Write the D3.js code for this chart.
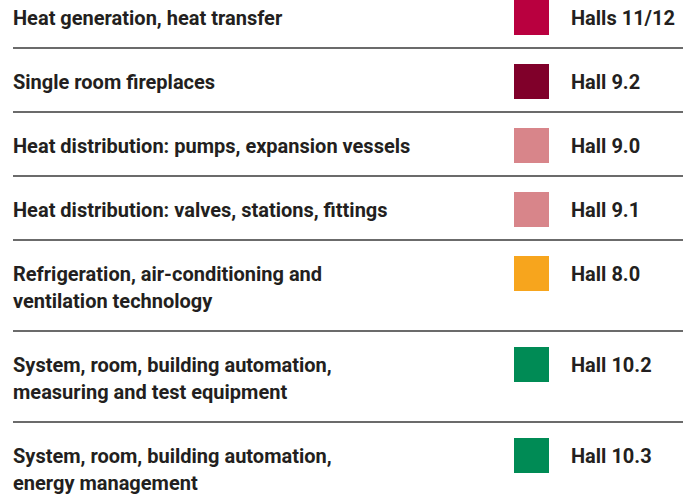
<!DOCTYPE html>
<html>
<head>
<meta charset="utf-8">
<script src="https://cdn.jsdelivr.net/npm/d3@7"></script>
<style>
  html, body { margin: 0; padding: 0; background: #fff; }
  svg text { font-family: "Liberation Sans Narrow", "Roboto", sans-serif; font-weight: bold; fill: #231f20; }
</style>
</head>
<body>
<svg id="chart" width="683" height="497"></svg>
<script>
(function() {
  // row labels, one entry per text line
  var labels = [
    ["Heat generation, heat transfer"],
    ["Single room fireplaces"],
    ["Heat distribution: pumps, expansion vessels"],
    ["Heat distribution: valves, stations, fittings"],
    ["Refrigeration, air-conditioning and", "ventilation technology"],
    ["System, room, building automation,", "measuring and test equipment"],
    ["System, room, building automation,", "energy management"]
  ];
  var halls = ["Halls 11/12", "Hall 9.2", "Hall 9.0", "Hall 9.1", "Hall 8.0", "Hall 10.2", "Hall 10.3"];
  var colors = ["#b9003f", "#80002a", "#d8858a", "#d8858a", "#f7a51d", "#008b55", "#008b55"];

  var W = 683;
  var ROW = 64, LINE = 27, TOP = -16;

  // cumulative row offsets
  var rows = [];
  var y = TOP;
  labels.forEach(function(l, i) {
    var h = ROW + (l.length - 1) * LINE;
    rows.push({ label: l, hall: halls[i], color: colors[i], y: y, h: h, last: i === labels.length - 1 });
    y += h;
  });

  var svg = d3.select("#chart");

  var g = svg.selectAll("g.row")
    .data(rows)
    .enter()
    .append("g")
      .attr("class", "row")
      .attr("transform", function(d) { return "translate(0," + d.y + ")"; });

  // label text
  g.append("text")
    .attr("x", 13)
    .attr("y", 41)
    .style("font-size", "20px")
    .selectAll("tspan")
    .data(function(d) { return d.label; })
    .enter()
    .append("tspan")
      .attr("x", 13)
      .attr("dy", function(d, i) { return i ? LINE : 0; })
      .text(function(d) { return d; });

  // colour swatch
  g.append("rect")
    .attr("x", 514)
    .attr("y", 16)
    .attr("width", 35)
    .attr("height", 35)
    .attr("fill", function(d) { return d.color; });

  // hall name
  g.append("text")
    .attr("x", 571)
    .attr("y", 41)
    .style("font-size", "20px")
    .text(function(d) { return d.hall; });

  // separator under each row
  g.filter(function(d) { return !d.last; })
    .append("line")
    .attr("x1", 13)
    .attr("x2", W)
    .attr("y1", function(d) { return d.h; })
    .attr("y2", function(d) { return d.h; })
    .attr("stroke", "#3a3a3a")
    .attr("stroke-width", 1.6);
})();
</script>
</body>
</html>
